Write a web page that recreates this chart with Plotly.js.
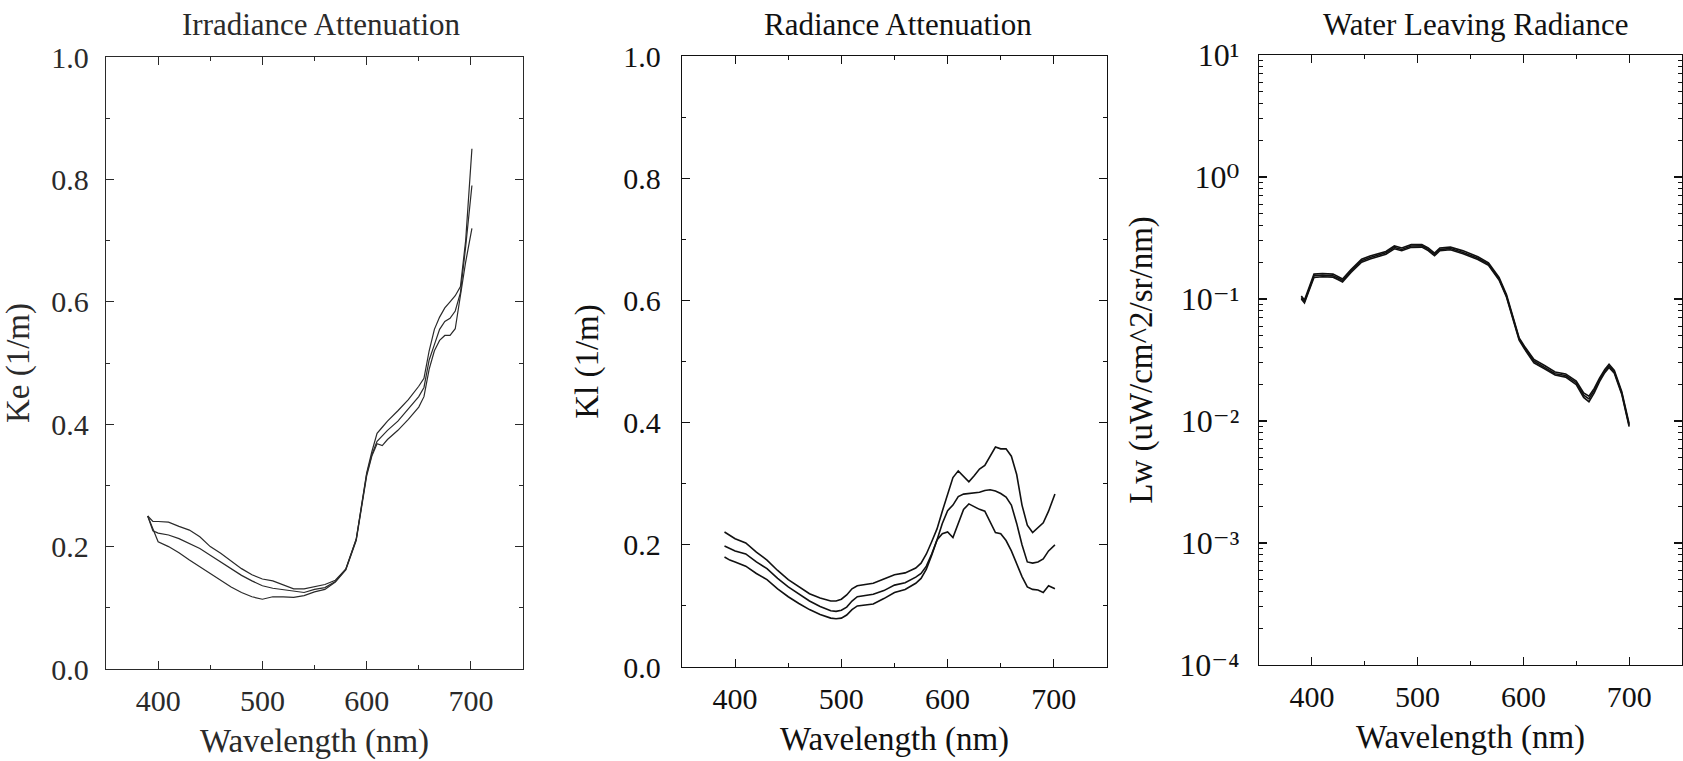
<!DOCTYPE html>
<html>
<head>
<meta charset="utf-8">
<script src="https://cdn.plot.ly/plotly-3.0.1.min.js"></script>
<style>html,body{margin:0;padding:0;background:#fff;}#chart{width:1683px;height:761px;}</style>
</head>
<body>
<div id="chart"></div>
<script>
// ---------- Panel 1: Irradiance Attenuation (Ke) ----------
const waveKe = [390,395,400,410,420,430,440,450,460,470,480,490,500,510,520,530,540,550,560,570,580,590,600,605,610,615,620,630,640,650,655,660,665,670,675,680,685,690,695,701];
const keHigh = [0.250,0.241,0.241,0.240,0.233,0.227,0.216,0.200,0.189,0.176,0.164,0.154,0.147,0.144,0.137,0.131,0.131,0.135,0.138,0.145,0.163,0.212,0.320,0.355,0.385,0.395,0.405,0.422,0.440,0.462,0.475,0.520,0.555,0.575,0.590,0.600,0.610,0.625,0.700,0.850];
const keMid  = [0.250,0.226,0.222,0.219,0.213,0.205,0.197,0.186,0.175,0.164,0.153,0.144,0.136,0.132,0.130,0.127,0.125,0.130,0.133,0.143,0.163,0.212,0.318,0.350,0.372,0.381,0.390,0.405,0.425,0.445,0.460,0.505,0.530,0.555,0.568,0.573,0.585,0.615,0.690,0.790];
const keLow  = [0.250,0.228,0.208,0.200,0.190,0.178,0.167,0.156,0.145,0.134,0.125,0.118,0.114,0.118,0.118,0.117,0.120,0.126,0.130,0.142,0.162,0.210,0.315,0.348,0.368,0.365,0.375,0.390,0.408,0.428,0.445,0.490,0.520,0.537,0.545,0.545,0.556,0.610,0.665,0.720];

// ---------- Panel 2: Radiance Attenuation (Kl) ----------
const waveKl = [390,395,400,410,420,430,440,450,460,470,480,490,495,500,505,510,515,520,530,540,550,560,570,575,580,585,590,595,600,605,610,615,620,625,630,635,640,645,650,655,660,665,670,675,680,685,690,695,701];
const klHigh = [0.221,0.215,0.210,0.203,0.188,0.175,0.158,0.143,0.132,0.120,0.113,0.108,0.108,0.111,0.118,0.128,0.133,0.134,0.137,0.144,0.151,0.154,0.162,0.170,0.185,0.205,0.226,0.255,0.283,0.310,0.321,0.312,0.303,0.313,0.324,0.330,0.345,0.360,0.357,0.357,0.345,0.315,0.265,0.232,0.220,0.228,0.236,0.255,0.283];
const klMid  = [0.198,0.194,0.190,0.185,0.172,0.161,0.145,0.131,0.119,0.108,0.099,0.092,0.091,0.093,0.098,0.108,0.115,0.116,0.119,0.125,0.134,0.138,0.147,0.153,0.165,0.185,0.208,0.235,0.256,0.265,0.279,0.283,0.284,0.286,0.286,0.289,0.290,0.288,0.284,0.278,0.265,0.235,0.200,0.172,0.170,0.172,0.177,0.190,0.200];
const klLow  = [0.180,0.175,0.172,0.165,0.153,0.143,0.128,0.115,0.104,0.094,0.086,0.080,0.079,0.080,0.085,0.094,0.100,0.101,0.103,0.112,0.122,0.127,0.137,0.145,0.160,0.183,0.208,0.218,0.221,0.212,0.235,0.258,0.267,0.262,0.258,0.255,0.238,0.220,0.218,0.207,0.190,0.168,0.148,0.131,0.127,0.126,0.122,0.133,0.128];

// ---------- Panel 3: Water Leaving Radiance (Lw) ----------
const waveLw = [390,393,397,402,410,420,425,429,437,447,455,462,470,478,485,494,504,510,516,521,531,543,557,567,577,584,591,596,601,610,620,630,640,650,657,662,667,672,677,681,686,693,700];
const lwHigh = [0.106,0.098,0.122,0.160,0.162,0.160,0.152,0.146,0.174,0.212,0.225,0.234,0.245,0.272,0.262,0.279,0.280,0.262,0.238,0.262,0.266,0.248,0.222,0.198,0.150,0.109,0.069,0.048,0.041,0.032,0.0285,0.0252,0.0243,0.0212,0.0170,0.0160,0.0185,0.0225,0.0265,0.0292,0.0260,0.0175,0.0095];
const lwMid  = [0.103,0.095,0.118,0.155,0.157,0.155,0.148,0.142,0.169,0.206,0.219,0.228,0.239,0.265,0.255,0.272,0.273,0.255,0.232,0.255,0.259,0.241,0.216,0.193,0.146,0.106,0.067,0.047,0.040,0.031,0.0275,0.0244,0.0236,0.0206,0.0163,0.0152,0.0178,0.0218,0.0257,0.0283,0.0252,0.0170,0.0092];
const lwLow  = [0.100,0.093,0.115,0.150,0.152,0.151,0.144,0.138,0.165,0.200,0.213,0.222,0.233,0.258,0.249,0.265,0.266,0.249,0.226,0.249,0.253,0.235,0.211,0.189,0.143,0.104,0.066,0.046,0.039,0.030,0.0268,0.0238,0.0229,0.0199,0.0156,0.0144,0.0170,0.0210,0.0249,0.0275,0.0246,0.0166,0.0090];

// Axis labels / titles
const panelTitles = ["Irradiance Attenuation", "Radiance Attenuation", "Water Leaving Radiance"];
const yTitles = ["Ke (1/m)", "Kl (1/m)", "Lw (uW/cm^2/sr/nm)"];
const xTitle = "Wavelength (nm)";
const xTickVals = [400, 500, 600, 700];
const linTickVals = [0, 0.2, 0.4, 0.6, 0.8, 1.0];
const logTickVals = [1e-4, 1e-3, 1e-2, 1e-1, 1e0, 1e1];
const logTickText = ["10\u207B\u2074", "10\u207B\u00B3", "10\u207B\u00B2", "10\u207B\u00B9", "10\u2070", "10\u00B9"];

const FONT = "Liberation Serif, DejaVu Serif, Times New Roman, serif";
const W = 1683, H = 761;

function line(x, y, xa, ya, color, width) {
  return {x: x, y: y, xaxis: xa, yaxis: ya, type: 'scatter', mode: 'lines',
          line: {color: color, width: width}, showlegend: false, hoverinfo: 'skip'};
}

const traces = [
  line(waveKe, keHigh, 'x', 'y', '#2a2a2a', 1.2),
  line(waveKe, keMid,  'x', 'y', '#2a2a2a', 1.2),
  line(waveKe, keLow,  'x', 'y', '#2a2a2a', 1.2),
  line(waveKl, klHigh, 'x2', 'y2', '#111', 1.6),
  line(waveKl, klMid,  'x2', 'y2', '#111', 1.6),
  line(waveKl, klLow,  'x2', 'y2', '#111', 1.6),
  line(waveLw, lwHigh, 'x3', 'y3', '#111', 1.6),
  line(waveLw, lwMid,  'x3', 'y3', '#111', 1.6),
  line(waveLw, lwLow,  'x3', 'y3', '#111', 1.6)
];

// pixel frames [left, right, top, bottom]
const frames = [[106, 523, 57, 669], [682, 1107, 56, 667], [1259, 1682, 55, 665]];

function xAxis(i, color) {
  const f = frames[i];
  return {
    domain: [f[0] / W, f[1] / W], anchor: i === 0 ? 'y' : 'y' + (i + 1),
    range: [350, 750], tickmode: 'array', tickvals: xTickVals,
    ticks: 'inside', ticklen: 8, tickwidth: 1.2, tickcolor: color,
    minor: {ticks: 'inside', ticklen: 4, tickwidth: 1, tickcolor: color, dtick: 50, tick0: 350, showgrid: false},
    showline: true, linecolor: color, linewidth: 1.3, mirror: 'allticks',
    showgrid: false, zeroline: false, fixedrange: true,
    tickfont: {family: FONT, size: 30, color: color}, ticklabelstandoff: 5,
    title: {text: xTitle, font: {family: FONT, size: 33, color: color}, standoff: 12},
    automargin: false
  };
}

function yAxisLin(i, title, color, lblOff) {
  const f = frames[i];
  return {
    domain: [(H - f[3]) / H, (H - f[2]) / H], anchor: i === 0 ? 'x' : 'x' + (i + 1),
    range: [0, 1], tickmode: 'array', tickvals: linTickVals, tickformat: '.1f',
    ticks: 'inside', ticklen: 8, tickwidth: 1.2, tickcolor: color,
    minor: {ticks: 'inside', ticklen: 4, tickwidth: 1, tickcolor: color, dtick: 0.1, tick0: 0, showgrid: false},
    showline: true, linecolor: color, linewidth: 1.3, mirror: 'allticks',
    showgrid: false, zeroline: false, fixedrange: true,
    tickfont: {family: FONT, size: 30, color: color}, ticklabelstandoff: lblOff,
    title: {text: title, font: {family: FONT, size: 33, color: color}, standoff: 14 + (14 - lblOff)},
    automargin: false
  };
}

const logMinor = [];
for (let e = -4; e < 1; e++) { for (let m = 2; m <= 9; m++) logMinor.push(m * Math.pow(10, e)); }

const f3 = frames[2];
const yAxisLog = {
  domain: [(H - f3[3]) / H, (H - f3[2]) / H], anchor: 'x3',
  type: 'log', range: [-4, 1], tickmode: 'array', tickvals: logTickVals, ticktext: logTickText,
  ticks: 'inside', ticklen: 8, tickwidth: 1.2, tickcolor: '#111',
  minor: {ticks: 'inside', ticklen: 4, tickwidth: 1, tickcolor: '#111', tickmode: 'array', tickvals: logMinor, showgrid: false},
  showline: true, linecolor: '#111', linewidth: 1.3, mirror: 'allticks',
  showgrid: false, zeroline: false, fixedrange: true,
  tickfont: {family: FONT, size: 32, color: '#111'}, ticklabelstandoff: 12,
  title: {text: yTitles[2], font: {family: FONT, size: 33, color: '#111'}, standoff: 16},
  automargin: false
};

const titleX = [321, 898, 1476];
const annotations = panelTitles.map((t, i) => ({
  text: t, xref: 'paper', yref: 'paper', x: titleX[i] / W, y: (H - 24) / H,
  xanchor: 'center', yanchor: 'middle', showarrow: false,
  font: {family: FONT, size: 31, color: i === 0 ? '#2a2a2a' : '#111'}
}));

const layout = {
  width: W, height: H, margin: {l: 0, r: 0, t: 0, b: 0, pad: 0},
  paper_bgcolor: '#fff', plot_bgcolor: '#fff', showlegend: false,
  xaxis: xAxis(0, '#2a2a2a'), yaxis: yAxisLin(0, yTitles[0], '#2a2a2a', 10),
  xaxis2: xAxis(1, '#111'), yaxis2: yAxisLin(1, yTitles[1], '#111', 14),
  xaxis3: xAxis(2, '#111'), yaxis3: yAxisLog,
  annotations: annotations
};

Plotly.newPlot('chart', traces, layout, {displayModeBar: false, staticPlot: true});
</script>
</body>
</html>
